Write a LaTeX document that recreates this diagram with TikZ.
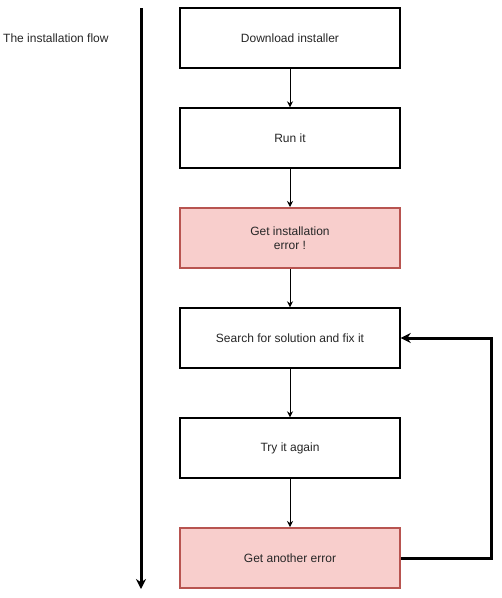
\documentclass[tikz,border=0pt]{standalone}
\usepackage{fontspec}
\setmainfont{Liberation Sans}
\usetikzlibrary{arrows.meta}
\definecolor{errfill}{HTML}{F8CECC}
\definecolor{errdraw}{HTML}{B85450}
\begin{document}
\begin{tikzpicture}[x=1pt,y=-1pt,
  stepbox/.style={draw=black,line width=1.4pt,fill=white,minimum width=220pt,minimum height=60pt,inner sep=0pt,align=center,font=\fontsize{12}{14}\selectfont,text=black!85},
  errbox/.style={stepbox,draw=errdraw,fill=errfill,line width=2pt},
  conn/.style={draw=black,line width=0.9pt,-{Stealth[length=6pt,width=6pt]}},
  thick conn/.style={draw=black,line width=3pt,-{Stealth[length=10pt,width=10pt]}}]
\useasboundingbox (0,0) rectangle (502,598);
\node[stepbox] (a) at (290,38) {Download installer};
\node[stepbox] (b) at (290,138) {Run it};
\node[errbox] (c) at (290,238) {Get installation\\ error !};
\node[stepbox] (d) at (290,338) {Search for solution and fix it};
\node[stepbox] (e) at (290,448) {Try it again};
\node[errbox] (f) at (290,558) {Get another error};
\node[anchor=west,inner sep=0pt,font=\fontsize{12}{14}\selectfont,text=black!85] (lbl) at (3,38) {The installation flow};
\coordinate (top) at (141,8);
\coordinate (bot) at (141,589);
\draw[thick conn] (top) -- (bot);
\draw[conn] (a) -- (b);
\draw[conn] (b) -- (c);
\draw[conn] (c) -- (d);
\draw[conn] (d) -- (e);
\draw[conn] (e) -- (f);
\coordinate (loopR) at (491,558);
\draw[thick conn] (f.east) -- (loopR) |- (d.east);
\end{tikzpicture}
\end{document}
